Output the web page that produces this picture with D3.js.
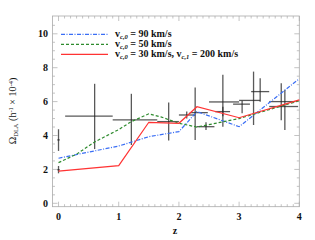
<!DOCTYPE html>
<html>
<head>
<meta charset="utf-8">
<script src="https://cdn.jsdelivr.net/npm/d3@7"></script>
<style>
  body { margin: 0; background: #fff; }
  svg { display: block; }
  .tick-label { font-family: "Liberation Serif", "DejaVu Serif", serif; font-weight: bold; font-size: 10px; fill: #111; }
  .legend-text { font-family: "Liberation Serif", serif; font-weight: bold; font-size: 10px; fill: #111; }
</style>
</head>
<body>
<div class="chart"></div>
<script>
// model curves, [z, omega]
var vc90 = [[0, 2.66], [1, 3.38], [1.5, 3.93], [2, 4.23], [2.3, 5.41], [3, 4.52], [4, 7.35]];
var vc50 = [[0, 2.4], [0.3, 2.9], [0.6, 3.62], [1, 4.35], [1.2, 4.8], [1.5, 5.28], [1.7, 5.1], [2, 4.72], [2.3, 4.5], [3, 5.0], [4, 6.05]];
var vc30 = [[0, 1.9], [1, 2.22], [1.5, 4.78], [2, 4.72], [2.3, 5.7], [3, 5.05], [4, 6.1]];

// observations: z, zlo, zhi, omega, lo, hi
var obs = [
  [0, -0.02, 0.02, 3.74, 3.09, 4.37],
  [0, -0.02, 0.02, 1.98, 1.77, 2.2],
  [0.6, 0.11, 0.9, 5.14, 3.2, 7.05],
  [1.21, 0.9, 1.64, 4.92, 3.44, 6.46],
  [1.83, 1.64, 2.0, 4.82, 3.7, 5.94],
  [2.13, 2.0, 2.27, 5.21, 5.0, 5.42],
  [2.27, 2.18, 2.48, 5.35, 3.74, 6.83],
  [2.45, 2.3, 2.59, 4.52, 4.32, 4.78],
  [2.73, 2.5, 3.0, 5.98, 4.52, 7.58],
  [2.73, 2.6, 2.85, 5.41, 5.14, 5.7],
  [3.05, 2.9, 3.18, 5.85, 5.32, 6.05],
  [3.24, 3.0, 3.35, 6.07, 4.62, 7.77],
  [3.35, 3.2, 3.5, 6.59, 5.99, 7.38],
  [3.7, 3.5, 3.93, 6.0, 4.9, 7.09],
  [3.76, 3.5, 3.98, 5.71, 4.33, 6.7]
];

var xTicks = [0, 1, 2, 3, 4];
var yTicks = [0, 2, 4, 6, 8, 10];

var legendItems = [
  { sub: "c,0", rest: " = 90 km/s", extra: null, color: "#3a6ef5", dash: "4,1.5,1,1.5" },
  { sub: "c,0", rest: " = 50 km/s", extra: null, color: "#2e8b2e", dash: "3,2" },
  { sub: "c,0", rest: " = 30 km/s, v", extra: "c,1", color: "#ff3333", dash: null }
];

var width = 315, height = 240;
var plot = { left: 52.5, right: 299.3, top: 16, bottom: 206.7 };

var svg = d3.select(".chart").append("svg")
  .attr("width", width)
  .attr("height", height);

var x = d3.scaleLinear().domain([-0.1, 4]).range([plot.left, plot.right]);
var y = d3.scaleLinear().domain([-0.2, 11.05]).range([plot.bottom, plot.top]);

// frame
svg.append("rect")
  .attr("x", plot.left).attr("y", plot.top)
  .attr("width", plot.right - plot.left).attr("height", plot.bottom - plot.top)
  .attr("fill", "none").attr("stroke", "#aaa").attr("stroke-width", 0.8);

// ticks on all four sides, pointing inward
var xMinor = d3.range(0, 41).map(function(d) { return d / 10; });
var yMinor = d3.range(0, 22).map(function(d) { return d / 2; });
var tickG = svg.append("g").attr("stroke", "#aaa").attr("stroke-width", 0.7);

xMinor.forEach(function(v) {
  var len = xTicks.indexOf(v) >= 0 ? 5 : 2.5;
  tickG.append("line").attr("x1", x(v)).attr("x2", x(v)).attr("y1", plot.bottom).attr("y2", plot.bottom - len);
  tickG.append("line").attr("x1", x(v)).attr("x2", x(v)).attr("y1", plot.top).attr("y2", plot.top + len);
});
yMinor.forEach(function(v) {
  var len = yTicks.indexOf(v) >= 0 ? 5 : 2.5;
  tickG.append("line").attr("y1", y(v)).attr("y2", y(v)).attr("x1", plot.left).attr("x2", plot.left + len);
  tickG.append("line").attr("y1", y(v)).attr("y2", y(v)).attr("x1", plot.right).attr("x2", plot.right - len);
});

svg.selectAll("text.xl").data(xTicks).enter().append("text")
  .attr("class", "tick-label")
  .attr("x", function(d) { return x(d); })
  .attr("y", 220)
  .attr("text-anchor", "middle")
  .text(function(d) { return d; });

svg.selectAll("text.yl").data(yTicks).enter().append("text")
  .attr("class", "tick-label")
  .attr("x", 48)
  .attr("y", function(d) { return y(d) + 3.5; })
  .attr("text-anchor", "end")
  .text(function(d) { return d; });

// axis titles
svg.append("text")
  .attr("class", "tick-label")
  .attr("x", 175).attr("y", 234)
  .attr("text-anchor", "middle")
  .text("z");

var yTitle = svg.append("text")
  .attr("transform", "translate(16,111) rotate(-90)")
  .attr("text-anchor", "middle")
  .attr("font-family", "Liberation Serif, serif")
  .attr("font-size", "10px")
  .attr("fill", "#111");
yTitle.append("tspan").text("Ω");
yTitle.append("tspan").attr("font-size", "6.5px").attr("dy", 2).text("DLA");
yTitle.append("tspan").attr("dy", -2).text(" (h");
yTitle.append("tspan").attr("font-size", "6.5px").attr("dy", -3.5).text("-1");
yTitle.append("tspan").attr("dy", 3.5).text(" × 10");
yTitle.append("tspan").attr("font-size", "6.5px").attr("dy", -3.5).text("-4");
yTitle.append("tspan").attr("dy", 3.5).text(")");

// observations
var errG = svg.append("g")
  .attr("stroke", "#222")
  .attr("stroke-opacity", 0.75)
  .attr("stroke-width", 1.3);
obs.forEach(function(o) {
  errG.append("line").attr("x1", x(o[1])).attr("x2", x(o[2])).attr("y1", y(o[3])).attr("y2", y(o[3]));
  errG.append("line").attr("x1", x(o[0])).attr("x2", x(o[0])).attr("y1", y(o[4])).attr("y2", y(o[5]));
});

// model lines
var line = d3.line()
  .x(function(d) { return x(d[0]); })
  .y(function(d) { return y(d[1]); });

[[vc90, legendItems[0]], [vc50, legendItems[1]], [vc30, legendItems[2]]].forEach(function(s) {
  svg.append("path")
    .attr("d", line(s[0]))
    .attr("fill", "none")
    .attr("stroke", s[1].color)
    .attr("stroke-width", 1.2)
    .attr("stroke-dasharray", s[1].dash);
});

// legend
legendItems.forEach(function(item, i) {
  var ly = 34.3 + i * 10;
  svg.append("line")
    .attr("x1", 61).attr("x2", 108)
    .attr("y1", ly).attr("y2", ly)
    .attr("stroke", item.color)
    .attr("stroke-width", 1.2)
    .attr("stroke-dasharray", item.dash);
  var t = svg.append("text").attr("class", "legend-text").attr("x", 115).attr("y", ly + 3);
  t.append("tspan").text("v");
  t.append("tspan").attr("font-size", "6.5px").attr("font-style", "italic").attr("dy", 2).text(item.sub);
  t.append("tspan").attr("dy", -2).text(item.rest);
  if (item.extra) {
    t.append("tspan").attr("font-size", "6.5px").attr("font-style", "italic").attr("dy", 2).text(item.extra);
    t.append("tspan").attr("dy", -2).text(" = 200 km/s");
  }
});
</script>
</body>
</html>
